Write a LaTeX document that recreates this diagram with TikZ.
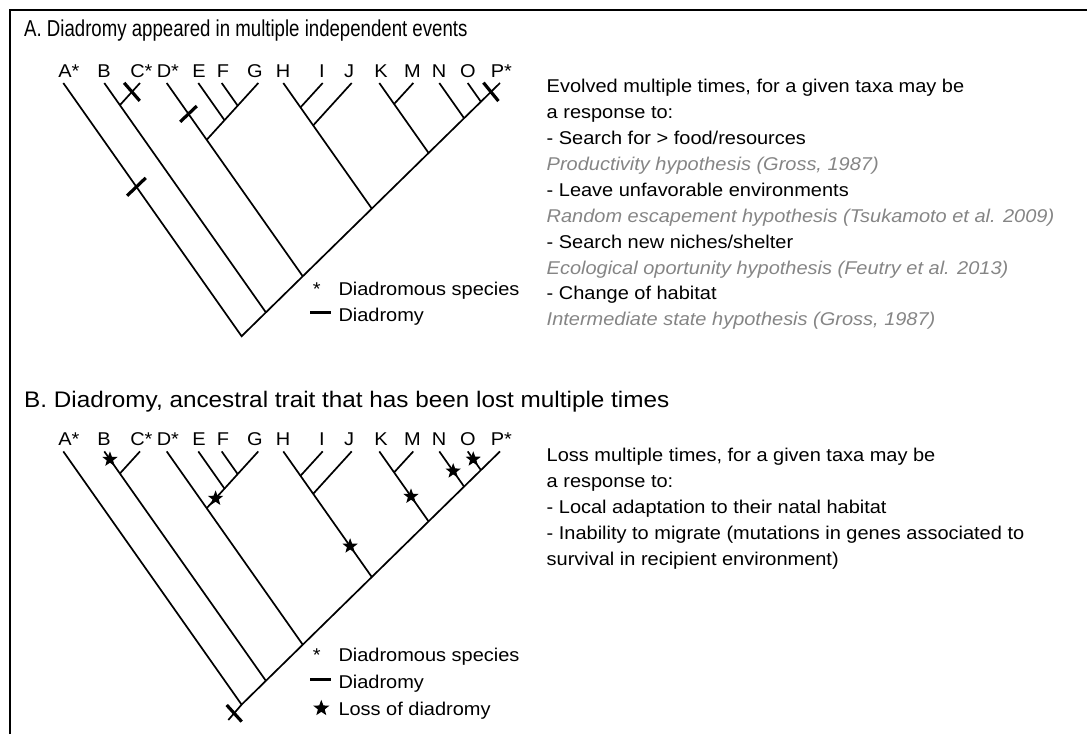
\documentclass[tikz,border=0pt]{standalone}
\usepackage{fontspec}
\setmainfont{Liberation Sans}[FakeStretch=1.08]
\newfontfamily\narrowfont{Liberation Sans}[FakeStretch=0.81]
\usetikzlibrary{shapes.geometric, calc}

\definecolor{hypgrey}{gray}{0.52}

\tikzset{
  branch/.style={line width=1.7pt},
  dmark/.style={line width=3.2pt},
  taxon/.style={anchor=base, inner sep=0pt, font=\fontsize{18.5}{22}\selectfont},
  rtext/.style={anchor=base west, inner sep=0pt, font=\fontsize{18.5}{22}\selectfont},
  hyp/.style={rtext, text=hypgrey, font=\fontsize{18.5}{22}\selectfont\itshape},
  lossstar/.style={star, star points=5, star point ratio=2.4, fill=black,
    inner sep=0pt, minimum size=16pt},
  paneltitle/.style={anchor=base west, inner sep=0pt, font=\fontsize{22.5}{27}\selectfont},
}

% one cladogram, every name starts with #1
\newcommand{\cladetree}[1]{%
  \foreach \tx/\st/\xx/\lx in {A/*/63.3/65, B//104.3/104, C/*/140/137.5, D/*/166.7/164,
      E//198.3/199, F//221.7/223, G//258.3/255, H//283.3/283, I//322.7/322,
      J//351.7/349, K//379.3/381, M//413.3/412.5, N//439.3/439, O//467.7/468,
      P/*/500/497.5} {
    \coordinate (#1\tx) at (\xx,83);
    \node[taxon] (#1l\tx) at (\lx,77.3) {\tx\rlap{\st}};
  }
  \coordinate (#1bc) at (119.9,105.1);
  \coordinate (#1fg) at (237.7,105.7);
  \coordinate (#1efg) at (224.5,120.2);
  \coordinate (#1dg) at (206.7,139.8);
  \coordinate (#1hi) at (300.5,107.4);
  \coordinate (#1hj) at (313.2,125.4);
  \coordinate (#1km) at (394.1,104);
  \coordinate (#1sO) at (480.9,101.7);
  \coordinate (#1sN) at (464.1,118.2);
  \coordinate (#1sK) at (428.6,153);
  \coordinate (#1sH) at (371.8,208.6);
  \coordinate (#1sD) at (302.8,276.3);
  \coordinate (#1sB) at (265.9,312.4);
  \coordinate (#1root) at (241.6,336.2);
  \draw[branch] (#1A) -- (#1root) -- (#1P);
  \draw[branch] (#1B) -- (#1sB);
  \draw[branch] (#1C) -- (#1bc);
  \draw[branch] (#1D) -- (#1sD);
  \draw[branch] (#1E) -- (#1efg);
  \draw[branch] (#1F) -- (#1fg);
  \draw[branch] (#1G) -- (#1dg);
  \draw[branch] (#1H) -- (#1sH);
  \draw[branch] (#1I) -- (#1hi);
  \draw[branch] (#1J) -- (#1hj);
  \draw[branch] (#1K) -- (#1sK);
  \draw[branch] (#1M) -- (#1km);
  \draw[branch] (#1N) -- (#1sN);
  \draw[branch] (#1O) -- (#1sO);
}

\begin{document}
\begin{tikzpicture}[x=1pt, y=-1pt]
  \useasboundingbox (0,0) rectangle (1087,734);
  \draw[line width=1.7pt] (10,734) -- (10,10) -- (1087,10);

  % panel A
  \node[paneltitle, font=\narrowfont\fontsize{23}{27}\selectfont] (titleA) at (24,36.7)
    {A. Diadromy appeared in multiple independent events};
  \cladetree{a}
  \draw[dmark] ($(aA)!0.41!(aroot)$) +(-9.3,8.9) -- +(9.3,-8.9);
  \draw[dmark] ($(aC)!0.4!(abc)$) +(-7.8,-9) -- +(7.8,9);
  \draw[dmark] ($(aD)!0.16!(asD)$) +(-8.3,7.9) -- +(8.3,-7.9);
  \draw[dmark] ($(aP)!0.035!(aroot)$) +(-7.5,-9.2) -- +(7.5,9.2);
  \node[anchor=base, taxon] (astarkey) at (316.7,295) {*};
  \node[rtext] (aspecies) at (338.3,295) {Diadromous species};
  \draw[dmark] (310,312.5) -- (330.5,312.5);
  \node[rtext] (adiad) at (338.3,321.5) {Diadromy};

  \node[rtext] (r1) at (546.5,92.7) {Evolved multiple times, for a given taxa may be};
  \node[rtext] (r2) at (546.5,118.6) {a response to:};
  \node[rtext] (r3) at (546.5,144.5) {- Search for > food/resources};
  \node[hyp] (r4) at (546.5,170.4) {Productivity hypothesis (Gross, 1987)};
  \node[rtext] (r5) at (546.5,196.3) {- Leave unfavorable environments};
  \node[hyp] (r6) at (546.5,222.2) {Random escapement hypothesis (Tsukamoto et al. 2009)};
  \node[rtext] (r7) at (546.5,248.1) {- Search new niches/shelter};
  \node[hyp] (r8) at (546.5,274) {Ecological oportunity hypothesis (Feutry et al. 2013)};
  \node[rtext] (r9) at (546.5,299.9) {- Change of habitat};
  \node[hyp] (r10) at (546.5,325.8) {Intermediate state hypothesis (Gross, 1987)};

  % panel B
  \node[paneltitle] (titleB) at (24,407.5)
    {B. Diadromy, ancestral trait that has been lost multiple times};
  \begin{scope}[shift={(0,368.4)}]
    \cladetree{b}
    \coordinate (bstem) at (228.3,351.6);
    \draw[branch] (broot) -- (bstem);
    \draw[dmark] (234.2,344.9) +(-7.5,-8.3) -- +(7.5,8.3);
    \node[lossstar] (lossB) at ($(bB)!0.035!(bsB)$) {};
    \node[lossstar] (lossG) at ($(befg)!0.5!(bdg)$) {};
    \node[lossstar] (lossH) at ($(bhj)!0.63!(bsH)$) {};
    \node[lossstar] (lossK) at ($(bkm)!0.49!(bsK)$) {};
    \node[lossstar] (lossN) at ($(bN)!0.56!(bsN)$) {};
    \node[lossstar] (lossO) at ($(bO)!0.42!(bsO)$) {};
  \end{scope}
  \node[anchor=base, taxon] (bstarkey) at (316.7,661.7) {*};
  \node[rtext] (bspecies) at (338.3,661.7) {Diadromous species};
  \draw[dmark] (310,679.3) -- (330.5,679.3);
  \node[rtext] (bdiad) at (338.3,688.3) {Diadromy};
  \node[lossstar, minimum size=17pt] (bstarleg) at (321.3,708.3) {};
  \node[rtext] (bloss) at (338.3,715) {Loss of diadromy};

  \node[rtext] (s1) at (546.5,461.1) {Loss multiple times, for a given taxa may be};
  \node[rtext] (s2) at (546.5,487.1) {a response to:};
  \node[rtext] (s3) at (546.5,513.1) {- Local adaptation to their natal habitat};
  \node[rtext] (s4) at (546.5,539.1) {- Inability to migrate (mutations in genes associated to};
  \node[rtext] (s5) at (546.5,565.1) {survival in recipient environment)};
\end{tikzpicture}
\end{document}
